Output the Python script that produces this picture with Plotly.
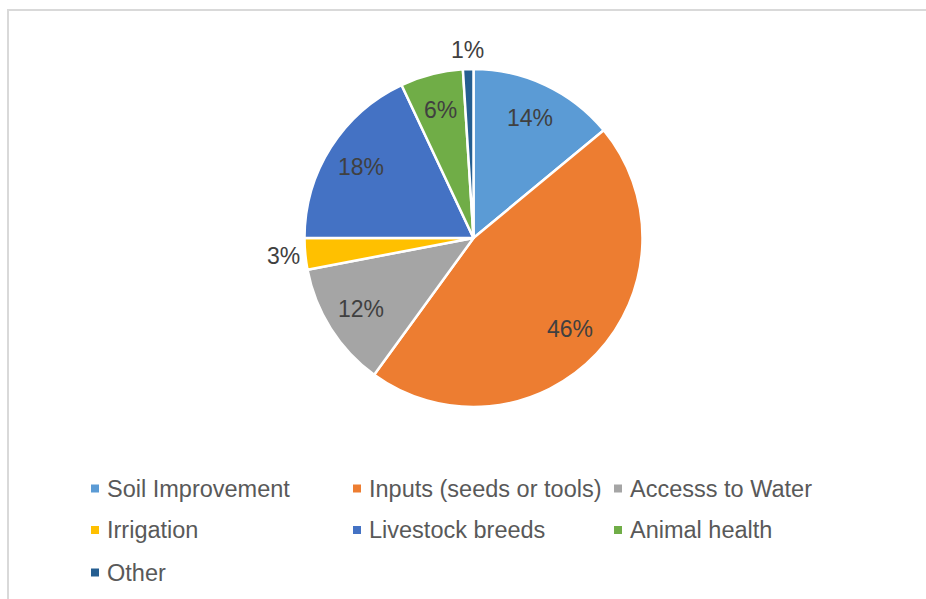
import math
import plotly.graph_objects as go

# Share of support requested, by category (percent)
categories = [
    "Soil Improvement",
    "Inputs (seeds or tools)",
    "Accesss to Water",
    "Irrigation",
    "Livestock breeds",
    "Animal health",
    "Other",
]
values = [14, 46, 12, 3, 18, 6, 1]
colors = ["#5B9BD5", "#ED7D31", "#A5A5A5", "#FFC000", "#4472C4", "#70AD47", "#255E91"]

W, H = 926, 599
FONT = "Liberation Sans, Arial, sans-serif"

# pie geometry in pixels
cx, cy, r = 473.5, 238, 169

def px(x):
    return x / W

def py(y):
    return 1 - y / H

fig = go.Figure(
    go.Pie(
        labels=categories,
        values=values,
        sort=False,
        direction="clockwise",
        rotation=0,
        marker=dict(colors=colors, line=dict(color="white", width=2.5)),
        textinfo="none",
        hoverinfo="label+percent",
        showlegend=False,
        domain=dict(x=[px(cx - r), px(cx + r)], y=[py(cy + r), py(cy - r)]),
    )
)

annotations = []
shapes = []

# data labels: inside for large slices, just outside the rim for small ones
total = sum(values)
cum = 0
for v in values:
    mid = (cum + v / 2) / total * 2 * math.pi
    cum += v
    s, c = math.sin(mid), math.cos(mid)
    label = f"{v}%"
    if v >= 5:
        d = 0.785 * r
    else:
        hw = 0.5 * len(label) * 12
        hh = 10
        d = r + 9 + abs(s) * hw + abs(c) * hh
    annotations.append(dict(
        x=px(cx + d * s), y=py(cy - d * c), xref="paper", yref="paper",
        text=label, showarrow=False, xanchor="center", yanchor="middle",
        font=dict(family=FONT, size=23, color="#404040"),
    ))

# legend laid out in three columns
col_x = [91, 353, 614]
row_y = [488.5, 530, 572.5]
sq = 8
for i, (name, col) in enumerate(zip(categories, colors)):
    x0 = col_x[i % 3]
    y0 = row_y[i // 3]
    shapes.append(dict(
        type="rect", xref="paper", yref="paper",
        x0=px(x0), x1=px(x0 + sq), y0=py(y0 + sq / 2), y1=py(y0 - sq / 2),
        fillcolor=col, line=dict(width=0),
    ))
    annotations.append(dict(
        x=px(x0 + 14), y=py(y0), xref="paper", yref="paper",
        text=name, showarrow=False, xanchor="left", yanchor="middle",
        font=dict(family=FONT, size=23.5, color="#595959"),
    ))

# chart area border (left and top edges)
shapes.append(dict(
    type="path", xref="paper", yref="paper",
    path=f"M {px(8)} {py(H + 5)} L {px(8)} {py(10)} L {px(W + 5)} {py(10)}",
    line=dict(color="#D9D9D9", width=2),
))

fig.update_layout(
    width=W, height=H,
    margin=dict(l=0, r=0, t=0, b=0),
    paper_bgcolor="white",
    plot_bgcolor="white",
    annotations=annotations,
    shapes=shapes,
)

fig.write_html("out.html")
